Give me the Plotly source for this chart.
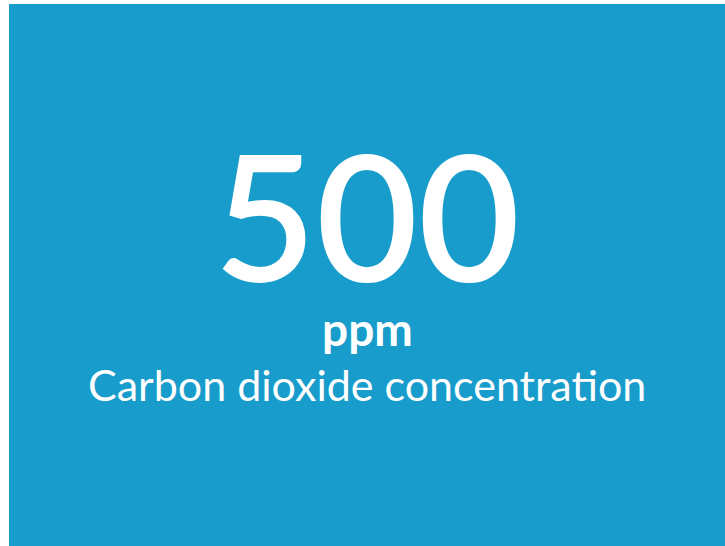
import plotly.graph_objects as go

value = 500
unit = "ppm"
label = "Carbon dioxide concentration"

BG = "#179ccb"
FONT = "Lato"

fig = go.Figure(go.Indicator(
    mode="number",
    value=value,
    number=dict(font=dict(size=176, color="white", family=FONT, weight=600), valueformat="d"),
    domain=dict(x=[0, 1], y=[0.363, 0.863]),
))

fig.add_annotation(text=f"<b>{unit}</b>", x=0.5, y=0.401, xref="paper", yref="paper",
                   showarrow=False, font=dict(size=46, color="white", family=FONT),
                   xanchor="center", yanchor="middle")
fig.add_annotation(text=label, x=0.5, y=0.298, xref="paper", yref="paper",
                   showarrow=False, font=dict(size=43, color="white", family=FONT),
                   xanchor="center", yanchor="middle")

fig.update_layout(
    width=716, height=542,
    paper_bgcolor=BG, plot_bgcolor=BG,
    margin=dict(l=0, r=0, t=0, b=0),
)

fig.write_html("out.html", post_script="document.body.style.margin='4px 0 0 9px';")
